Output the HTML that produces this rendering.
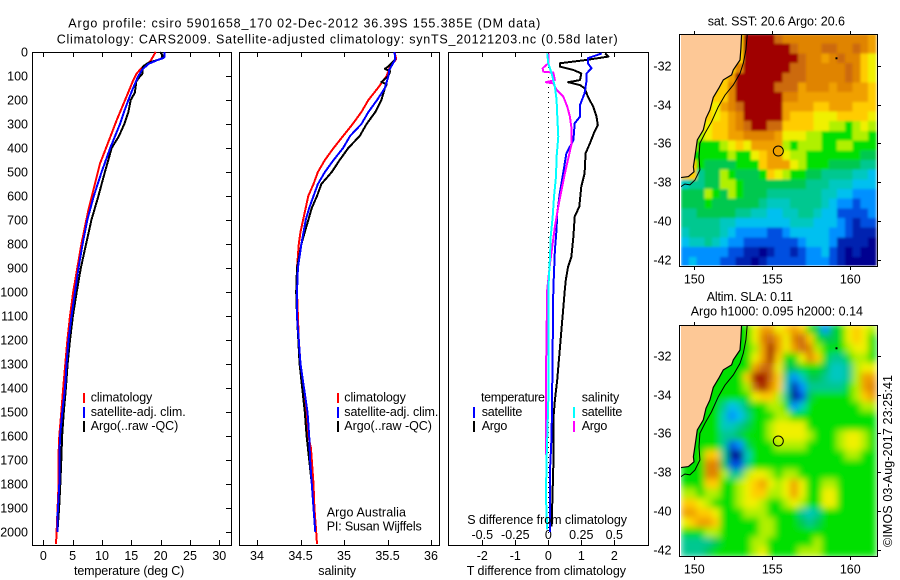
<!DOCTYPE html>
<html lang="en">
<head>
<meta charset="utf-8">
<title>Argo profile chart</title>
<style>
html,body{margin:0;padding:0;background:#fff;}
#chart{display:block;width:900px;height:580px;}
text{font-family:"Liberation Sans",sans-serif;font-size:12.5px;fill:#000;}
</style>
</head>
<body>
<svg id="chart" xmlns="http://www.w3.org/2000/svg" width="900" height="580" viewBox="0 0 900 580">
<defs>
<clipPath id="clip-sst"><rect x="681" y="34.5" width="196" height="231"/></clipPath>
<clipPath id="clip-sla"><rect x="681" y="325" width="196" height="231"/></clipPath>
<filter id="smooth-sla" filterUnits="userSpaceOnUse" x="660" y="300" width="240" height="280"><feGaussianBlur stdDeviation="3.4" edgeMode="duplicate"/></filter>
<filter id="smooth-sst" filterUnits="userSpaceOnUse" x="660" y="10" width="240" height="280"><feGaussianBlur stdDeviation="1.3" edgeMode="duplicate"/></filter>
</defs>
<rect x="0" y="0" width="900" height="580" fill="#fff"/>

<text x="68.3" y="27.3" textLength="472" font-size="13">Argo profile: csiro 5901658_170 02-Dec-2012 36.39S 155.385E (DM data)</text>
<text x="56.7" y="43.3" textLength="561" font-size="13">Climatology: CARS2009. Satellite-adjusted climatology: synTS_20121203.nc (0.58d later)</text>

<g id="panels"></g>
<g id="maps"></g>

<text x="74" y="575" textLength="110.3">temperature (deg C)</text>
<text x="318.3" y="575" textLength="37.7">salinity</text>
<text x="466.7" y="575" textLength="159.3">T difference from climatology</text>
<text x="467.3" y="524" textLength="159.7">S difference from climatology</text>

<g>
<rect x="83" y="393" width="2" height="10" fill="#f00"/>
<rect x="83" y="407" width="2" height="11" fill="#00f"/>
<rect x="83" y="421" width="2" height="11" fill="#000"/>
<text x="90.7" y="401.7" textLength="61.6">climatology</text>
<text x="90.7" y="416" textLength="95">satellite-adj. clim.</text>
<text x="90.7" y="430" textLength="87.6">Argo(..raw -QC)</text>
</g>
<g>
<rect x="337" y="393" width="2" height="10" fill="#f00"/>
<rect x="337" y="407" width="2" height="11" fill="#00f"/>
<rect x="337" y="421" width="2" height="11" fill="#000"/>
<text x="344.3" y="401.7" textLength="61.6">climatology</text>
<text x="344.3" y="416" textLength="94">satellite-adj. clim.</text>
<text x="344.3" y="430" textLength="87.6">Argo(..raw -QC)</text>
<text x="326.7" y="516.7" textLength="79.3">Argo Australia</text>
<text x="326.7" y="530.7" textLength="95">PI: Susan Wijffels</text>
</g>
<g>
<text x="481" y="401.7" textLength="64">temperature</text>
<rect x="473" y="407" width="2" height="11" fill="#00f"/>
<rect x="473" y="421" width="2" height="11" fill="#000"/>
<text x="481.7" y="416" textLength="40.6">satellite</text>
<text x="481.7" y="430" textLength="25.6">Argo</text>
<text x="581.7" y="401.7" textLength="37.6">salinity</text>
<rect x="573" y="407" width="2" height="11" fill="#0ff"/>
<rect x="573" y="421" width="2" height="11" fill="#f0f"/>
<text x="581.7" y="416" textLength="40.6">satellite</text>
<text x="581.7" y="430" textLength="25.6">Argo</text>
</g>

<text x="707.7" y="25.7" textLength="137.3">sat. SST: 20.6 Argo: 20.6</text>
<text x="706.7" y="301" textLength="86.3">Altim. SLA: 0.11</text>
<text x="690.7" y="315.7" textLength="172.3">Argo h1000: 0.095 h2000: 0.14</text>
<text transform="translate(892,547) rotate(-90)" textLength="172">©IMOS 03-Aug-2017 23:25:41</text>
</svg>

<script>
// ---------- profile data ----------
const depthTicks = [0,100,200,300,400,500,600,700,800,900,1000,1100,1200,1300,1400,1500,1600,1700,1800,1900,2000];
const tempTicks = [0,5,10,15,20,25,30];
const salTicks = [34,34.5,35,35.5,36];
const salTickLabels = ['34','34.5','35','35.5','36'];
const tDiffTicks = [-2,-1,0,1,2];
const sDiffTicks = [-0.5,-0.25,0,0.25,0.5];
const sDiffTickLabels = ['-0.5','-0.25','0','0.25','0.5'];

const tempClimDepth = [0,40,65,90,125,185,285,355,465,550,660,800,900,1000,1100,1200,1300,1400,1500,1600,1700,1800,1900,2000,2050];
const tempClimValue = [19.15,18.2,16.8,15.9,15.2,14.2,12.5,11.4,9.66,8.8,7.67,6.5,5.8,5.1,4.55,4.1,3.75,3.4,3.07,2.73,2.56,2.6,2.44,2.27,2.16];
const tempSatDepth = [0,20,25,35,50,75,100,150,200,250,300,400,500,600,700,800,900,1000,1100,1200,1300,1400,1500,1600,1700,1800,1900,1950,2000];
const tempSatValue = [20.7,20.7,20.5,19.3,17.9,16.8,16.2,15.3,14.5,13.75,13.07,11.4,9.94,8.6,7.5,6.7,6,5.4,4.8,4.3,3.95,3.7,3.24,2.84,2.73,2.73,2.5,2.39,2.39];
const tempArgoDepth = [0,20,30,45,60,70,90,100,125,135,170,200,250,300,350,400,500,600,700,800,900,1000,1100,1200,1300,1400,1500,1600,1700,1800,1900,2000];
const tempArgoValue = [19.9,20.5,19.9,17.9,17,16.9,16.9,16.5,15.8,15.8,15.6,14.9,14.5,13.8,12.9,11.65,10.5,9.4,8.2,7.3,6.4,5.7,5.05,4.55,4.15,3.86,3.5,3.2,3.07,2.9,2.7,2.4];

const salClimDepth = [0,30,60,100,150,200,250,300,350,400,450,500,550,600,650,700,750,800,850,900,1000,1100,1200,1300,1400,1500,1600,1650,1700,1800,1900,2000,2050];
const salClimValue = [35.58,35.6,35.53,35.49,35.39,35.28,35.2,35.1,34.99,34.88,34.78,34.7,34.65,34.59,34.56,34.53,34.5,34.48,34.47,34.46,34.46,34.47,34.48,34.5,34.53,34.56,34.59,34.62,34.63,34.65,34.66,34.68,34.69];
const salSatDepth = [0,30,50,75,100,150,200,250,300,350,400,450,500,550,600,650,700,800,900,1000,1100,1300,1400,1500,1600,1700,1800,1900,2000];
const salSatValue = [35.58,35.59,35.56,35.52,35.51,35.47,35.38,35.28,35.2,35.07,34.99,34.88,34.78,34.7,34.65,34.6,34.56,34.51,34.47,34.46,34.46,34.5,34.54,34.58,34.6,34.61,34.63,34.65,34.67];
const salArgoDepth = [0,30,60,70,80,100,125,135,150,200,250,300,350,400,450,500,550,600,650,700,800,900,1000,1100,1300,1400,1500,1600,1700,1800];
const salArgoValue = [35.58,35.59,35.51,35.47,35.53,35.51,35.43,35.49,35.47,35.43,35.36,35.26,35.18,35.05,34.95,34.86,34.74,34.69,34.63,34.59,34.51,34.46,34.45,34.46,34.49,34.52,34.55,34.57,34.6,34.63];

const tDiffSatDepth = [6,26,47,68,89,117,172,221,269,297,367,422,506,589,672,742,825,992,1367,1600,1750,2000];
const tDiffSatValue = [1.62,1.2,1.2,1.31,1.16,1.16,1.1,0.96,0.96,0.8,0.76,0.55,0.45,0.35,0.27,0.25,0.2,0.15,0.12,0.1,0.05,0.05];
const tDiffArgoDepth = [6,19,33,47,61,75,89,117,126,138,151,186,228,269,304,339,381,422,506,561,644,686,769,853,894,950,992,1367,1450,1533,1728,1978];
const tDiffArgoValue = [1.72,1.82,1.16,0.35,0.35,0.76,1,0.96,0.6,0.96,1.1,1.2,1.36,1.46,1.5,1.38,1.26,1.13,1.1,1,0.94,0.8,0.76,0.7,0.6,0.53,0.5,0.27,0.2,0.15,0.15,0.1];
const sDiffArgoDepth = [6,47,68,82,86,117,126,131,158,186,228,269,325,381,422,506,575,644,728,797,881,992,1367,1680];
const sDiffArgoValue = [0,0,-0.043,-0.038,0.038,0.05,-0.018,0.038,0.063,0.114,0.144,0.164,0.177,0.177,0.16,0.126,0.1,0.076,0.05,0.033,0.013,-0.008,-0.018,-0.018];
const sDiffSatDepth = [6,47,89,144,200,269,353,436,519,603,686,769,853,992,1367,1450,1615,1680,1850,1990];
const sDiffSatValue = [-0.008,0,0.025,0.05,0.063,0.068,0.076,0.063,0.058,0.043,0.033,0.018,0.013,0,0,0,-0.008,-0.012,-0.018,-0.008];

// ---------- map data (colour level per 0.5 degree cell, -1 = land) ----------
const mapLonTicks = [150,155,160];
const mapLatTicks = [-32,-34,-36,-38,-40,-42];
const mapLevelColors = ['#000090','#0020b0','#0050e0','#0090ff','#00c0f0','#00c8c0','#00c890','#00c850','#00e000','#b0f000','#f0f000','#ffcc00','#f0a000','#e08400','#cc6a10','#a00000'];
const argoLon = 155.385;
const argoLat = -36.39;
const coastLon = [153.03,152.99,152.93,152.5,152.39,151.86,151.6,151.22,151.0,150.75,150.58,150.19,150.04,149.94,149.98,149.62,149.04];
const coastLat = [-30.35,-31.09,-31.69,-32.2,-32.46,-32.72,-33.1,-33.62,-34.27,-34.7,-35.3,-35.82,-36.68,-37.2,-37.46,-37.71,-37.77];
const isobathLon = [153.4,153.31,153.14,152.93,152.5,151.97,151.54,151.11,150.68,150.36,150.3,150.36,150.04,149.72,149.4,149.08];
const isobathLat = [-30.35,-31.17,-31.86,-32.38,-32.98,-33.5,-34.1,-34.87,-35.48,-35.99,-36.68,-37.37,-37.89,-38.14,-38.09,-38.26];

const sstLevels = [
[-1,-1,-1,-1,-1,-1,-1,-1,15,15,15,15,14,13,13,13,13,13,13,13,13,13,13,13,12],
[-1,-1,-1,-1,-1,-1,-1,-1,15,15,15,15,15,15,14,13,13,13,14,14,13,13,14,13,12],
[-1,-1,-1,-1,-1,-1,-1,-1,15,15,15,15,15,15,15,14,13,13,12,13,14,13,13,11,10],
[-1,-1,-1,-1,-1,-1,-1,13,15,15,15,15,15,15,14,14,13,13,13,13,13,14,13,11,10],
[-1,-1,-1,-1,-1,-1,12,15,15,15,15,15,15,14,14,14,13,13,13,13,13,14,13,11,10],
[-1,-1,-1,-1,-1,11,13,15,15,15,15,15,14,14,14,12,13,13,13,12,13,13,12,12,11],
[-1,-1,-1,-1,11,11,13,15,15,15,15,15,15,13,13,12,12,12,12,12,12,12,12,12,11],
[-1,-1,-1,-1,10,12,13,14,15,15,15,15,15,12,12,12,12,11,11,12,12,12,11,11,11],
[-1,-1,-1,-1,10,11,12,13,15,15,15,15,15,12,11,11,11,10,10,10,11,11,11,11,10],
[-1,-1,-1,10,11,11,12,13,14,15,15,14,14,11,11,11,11,10,10,9,9,8,9,10,9],
[-1,-1,9,10,11,11,12,12,13,13,13,13,12,10,10,10,9,9,8,8,8,8,9,9,8],
[-1,-1,8,8,8,9,10,11,10,12,12,12,12,9,8,9,9,9,8,8,9,9,8,8,8],
[-1,8,8,8,8,8,9,8,8,10,11,12,12,10,9,9,8,8,8,8,8,8,8,7,7],
[-1,-1,8,7,7,7,7,8,8,8,11,12,12,12,10,9,8,8,8,7,7,7,7,6,6],
[-1,-1,6,7,7,9,8,7,7,7,8,11,10,9,8,8,7,7,6,6,6,6,5,5,4],
[5,6,6,7,7,9,9,8,7,7,7,7,7,7,7,7,6,6,6,5,5,5,4,4,4],
[7,7,7,9,8,7,9,8,7,7,7,6,6,6,6,6,6,6,5,5,4,4,3,3,3],
[7,7,7,8,7,7,7,7,7,7,6,5,5,5,6,6,6,6,5,4,3,3,2,3,3],
[6,6,7,7,7,7,7,6,6,5,5,4,4,5,5,6,6,5,4,4,2,2,2,2,3],
[6,6,6,6,6,5,5,4,4,4,4,4,4,4,5,5,5,4,4,4,3,2,1,2,2],
[5,6,6,6,6,5,4,3,3,3,3,2,2,3,4,4,4,4,4,3,3,2,1,1,1],
[4,5,5,6,5,4,3,3,2,2,2,2,2,2,2,3,4,4,4,3,1,1,1,1,0],
[3,3,3,3,3,3,2,2,1,1,0,1,2,2,1,2,3,3,4,2,1,0,1,0,0],
[3,4,3,3,3,2,2,1,1,0,1,2,2,2,2,2,3,3,3,2,1,0,0,0,0]
];
const slaLevels = [
[-1,-1,-1,-1,-1,-1,-1,-1,8,10,12,12,10,11,12,11,8,7,3,7,8,10,11,10,9],
[-1,-1,-1,-1,-1,-1,-1,-1,8,10,13,14,12,10,13,14,11,8,7,7,8,10,11,10,8],
[-1,-1,-1,-1,-1,-1,-1,8,8,9,12,15,12,10,12,14,13,9,8,8,8,9,10,10,8],
[-1,-1,-1,-1,-1,-1,8,8,8,10,12,15,11,8,8,10,13,11,8,6,6,8,9,9,8],
[-1,-1,-1,-1,-1,-1,8,8,8,12,14,14,10,7,7,8,8,8,7,5,5,6,9,10,10],
[-1,-1,-1,-1,-1,8,8,8,11,15,15,14,11,6,3,5,7,7,6,5,5,6,9,12,12],
[-1,-1,-1,-1,8,8,8,8,9,14,15,13,11,5,1,3,6,6,6,6,6,8,9,12,13],
[-1,-1,-1,-1,8,8,8,8,8,10,11,11,9,6,0,2,7,8,8,8,8,8,9,11,12],
[-1,-1,-1,8,8,6,4,5,7,8,8,9,9,8,3,5,8,8,8,8,8,8,8,9,9],
[-1,-1,-1,8,8,5,3,4,6,8,8,8,9,9,8,8,8,8,8,8,8,8,8,8,8],
[-1,-1,8,8,8,5,5,6,7,8,8,9,10,10,10,10,8,8,8,8,8,8,8,8,8],
[-1,-1,8,8,8,6,6,7,8,8,8,9,10,10,10,10,9,8,8,8,9,10,10,9,8],
[-1,-1,8,8,8,6,2,3,7,8,8,8,9,9,9,9,8,8,8,8,9,10,10,9,8],
[-1,-1,8,11,11,6,0,0,5,8,8,8,8,8,8,8,8,8,8,8,8,9,9,8,8],
[-1,-1,8,13,13,7,2,2,6,8,8,8,8,8,8,8,8,8,8,8,8,8,8,8,8],
[8,8,8,13,13,9,6,6,9,10,10,9,8,9,9,8,8,8,8,8,8,8,8,8,8],
[8,8,8,11,11,8,8,9,10,11,12,10,9,10,12,10,8,8,9,9,8,8,8,8,8],
[9,9,8,9,9,8,8,9,10,11,11,9,9,10,12,10,8,8,10,10,8,8,8,8,8],
[11,11,10,9,8,8,8,9,10,10,9,8,8,9,10,9,8,8,10,10,8,8,8,8,8],
[12,12,11,11,10,8,8,8,9,9,9,8,8,8,8,6,5,6,8,8,8,8,8,8,8],
[10,11,12,12,11,8,8,8,8,8,9,9,8,8,8,7,6,7,8,8,8,8,8,8,8],
[8,8,8,9,9,8,8,8,8,8,9,9,8,8,8,8,8,8,8,8,8,8,8,8,8],
[6,6,6,6,7,8,8,8,8,9,9,8,8,8,8,8,8,9,8,8,8,8,8,8,8],
[6,6,6,7,8,8,8,8,8,9,10,8,8,8,8,9,9,9,8,8,8,8,8,8,8]
];

// ---------- axis functions ----------
const NS = 'http://www.w3.org/2000/svg';
function depthY(d){ return 52 + 0.24 * d; }
function tempX(t){ return 43.3 + 5.867 * t; }
function salX(s){ return 257 + 87 * (s - 34); }
function tDiffX(t){ return 548.3 + 33 * t; }
function sDiffX(s){ return 548.3 + 132 * s; }
function lonX(lon){ return 694.3 + 15.6 * (lon - 150); }
function latY(lat, offset){ return 66 + offset - 19.37 * (lat + 32); }

function make(tag, parent, attrs, txt){
  const n = document.createElementNS(NS, tag);
  for (const k in attrs) n.setAttribute(k, attrs[k]);
  if (txt !== undefined) n.textContent = txt;
  parent.appendChild(n);
  return n;
}

const panels = document.getElementById('panels');
const maps = document.getElementById('maps');

// ---------- profile panels ----------
function drawPanel(key, left, right, top, bottom){
  const frame = make('rect', panels, {x:left+0.5, y:top+0.5, width:right-left, height:bottom-top, fill:'none', stroke:'#000', 'stroke-width':1, 'shape-rendering':'crispEdges'});
  
  
}
function drawXTicks(key, ticks, labels, xFn, labelY, showTop, showBottom){
  ticks.forEach(function(t, i){
    const x = Math.round(xFn(t)) + 0.5;
    if (showBottom) {
      const b = make('line', panels, {x1:x, x2:x, y1:540, y2:545, stroke:'#000', 'shape-rendering':'crispEdges'});
      
      
    }
    if (showTop) {
      const a = make('line', panels, {x1:x, x2:x, y1:52, y2:57, stroke:'#000', 'shape-rendering':'crispEdges'});
      
      
    }
    const lab = make('text', panels, {x:xFn(t), y:labelY, 'text-anchor':'middle'}, labels[i]);
    
    
  });
}
function drawSeries(name, depths, values, xFn, color){
  const pts = depths.map(function(d, i){ return xFn(values[i]).toFixed(1) + ',' + depthY(d).toFixed(1); }).join(' ');
  const line = make('polyline', panels, {points:pts, fill:'none', stroke:color, 'stroke-width':2, 'shape-rendering':'crispEdges', 'stroke-linejoin':'round'});
  
  
}

drawPanel('temperature', 32, 231, 52, 545);
drawPanel('salinity', 239, 439, 52, 545);
drawPanel('difference', 448, 648, 52, 545);

depthTicks.forEach(function(d){
  const y = Math.round(depthY(d)) + 0.5;
  if (d > 0) {
    const tick = make('line', panels, {x1:226, x2:231, y1:y, y2:y, stroke:'#000', 'shape-rendering':'crispEdges'});
    
    
  }
  const lab = make('text', panels, {x:28, y:depthY(d) + 4.5, 'text-anchor':'end', 'font-size':12}, String(d));
  
  
});

drawXTicks('temperature', tempTicks, tempTicks.map(String), tempX, 560, true, true);
drawXTicks('salinity', salTicks, salTickLabels, salX, 560, true, true);
drawXTicks('t-difference', tDiffTicks, tDiffTicks.map(String), tDiffX, 560, true, true);
drawXTicks('s-difference', sDiffTicks, sDiffTickLabels, sDiffX, 539, false, false);

drawSeries('temperature-climatology-line', tempClimDepth, tempClimValue, tempX, '#f00');
drawSeries('temperature-argo-line', tempArgoDepth, tempArgoValue, tempX, '#000');
drawSeries('temperature-satellite-line', tempSatDepth, tempSatValue, tempX, '#00f');
drawSeries('salinity-climatology-line', salClimDepth, salClimValue, salX, '#f00');
drawSeries('salinity-argo-line', salArgoDepth, salArgoValue, salX, '#000');
drawSeries('salinity-satellite-line', salSatDepth, salSatValue, salX, '#00f');

const zeroLine = make('line', panels, {x1:548.5, x2:548.5, y1:52, y2:536, stroke:'#000', 'stroke-dasharray':'1 4', 'shape-rendering':'crispEdges'});



drawSeries('t-difference-argo-line', tDiffArgoDepth, tDiffArgoValue, tDiffX, '#000');
drawSeries('t-difference-satellite-line', tDiffSatDepth, tDiffSatValue, tDiffX, '#00f');
drawSeries('s-difference-argo-line', sDiffArgoDepth, sDiffArgoValue, sDiffX, '#f0f');
drawSeries('s-difference-satellite-line', sDiffSatDepth, sDiffSatValue, sDiffX, '#0ff');

// ---------- maps ----------
function drawMap(key, levels, offset, clipId, backing, filterId, boxTop, boxBottom){
  const clip = make('g', maps, {'clip-path':'url(#' + clipId + ')'});
  
  

  const cells = make('g', clip, {filter:'url(#' + filterId + ')'});
  
  

  levels.forEach(function(row, r){
    row.forEach(function(level, c){
      const lonW = 149.15 + c * 0.5;
      const latN = -30.35 - r * 0.5;
      const x0 = lonX(lonW), y0 = latY(latN, offset);
      const x1 = lonX(lonW + 0.5), y1 = latY(latN - 0.5, offset);
      const cell = make('rect', cells, {x:x0.toFixed(1), y:y0.toFixed(1), width:(x1 - x0 + 0.6).toFixed(1), height:(y1 - y0 + 0.6).toFixed(1), fill: level < 0 ? backing : mapLevelColors[level], 'shape-rendering':'crispEdges'});
      
      
    });
  });

  const landPts = coastLon.map(function(lon, i){ return lonX(lon).toFixed(1) + ',' + latY(coastLat[i], offset).toFixed(1); });
  landPts.push(lonX(149).toFixed(1) + ',' + latY(coastLat[coastLat.length - 1], offset).toFixed(1));
  landPts.push(lonX(149).toFixed(1) + ',' + latY(-30.2, offset).toFixed(1));
  landPts.push(lonX(coastLon[0]).toFixed(1) + ',' + latY(-30.2, offset).toFixed(1));
  const land = make('polygon', clip, {points:landPts.join(' '), fill:'#fdc896', stroke:'#000', 'stroke-width':1.2});
  
  

  const isoPts = isobathLon.map(function(lon, i){ return lonX(lon).toFixed(1) + ',' + latY(isobathLat[i], offset).toFixed(1); }).join(' ');
  const iso = make('polyline', clip, {points:isoPts, fill:'none', stroke:'#000', 'stroke-width':1});
  
  

  const frame = make('rect', maps, {x:679.5, y:boxTop + 0.5, width:198, height:boxBottom - boxTop, fill:'none', stroke:'#000', 'shape-rendering':'crispEdges'});
  
  

  const island = make('rect', maps, {x:lonX(159.05), y:latY(-31.55, offset), width:2, height:2, fill:'#000'});
  
  

  const marker = make('circle', maps, {cx:lonX(argoLon), cy:latY(argoLat, offset), r:5, fill:'none', stroke:'#000', 'stroke-width':1});
  
  

  mapLonTicks.forEach(function(lon){
    const x = Math.round(lonX(lon)) + 0.5;
    const top = make('line', maps, {x1:x, x2:x, y1:boxTop - 3, y2:boxTop, stroke:'#000', 'shape-rendering':'crispEdges'});
    
    
    const bot = make('line', maps, {x1:x, x2:x, y1:boxBottom + 1, y2:boxBottom + 4, stroke:'#000', 'shape-rendering':'crispEdges'});
    
    
    const lab = make('text', maps, {x:lonX(lon), y:boxBottom + 17.5, 'text-anchor':'middle'}, String(lon));
    
    
  });
  mapLatTicks.forEach(function(lat){
    const y = Math.round(latY(lat, offset)) + 0.5;
    const tr = make('line', maps, {x1:878, x2:881, y1:y, y2:y, stroke:'#000', 'shape-rendering':'crispEdges'});
    
    
    const lab = make('text', maps, {x:671.5, y:y + 4, 'text-anchor':'end', 'font-size':12}, String(lat));
    
    
  });
}
drawMap('sst', sstLevels, 0, 'clip-sst', '#ffcc00', 'smooth-sst', 34, 266);
drawMap('sla', slaLevels, 290, 'clip-sla', '#00e000', 'smooth-sla', 325, 556);
</script>
</body>
</html>
